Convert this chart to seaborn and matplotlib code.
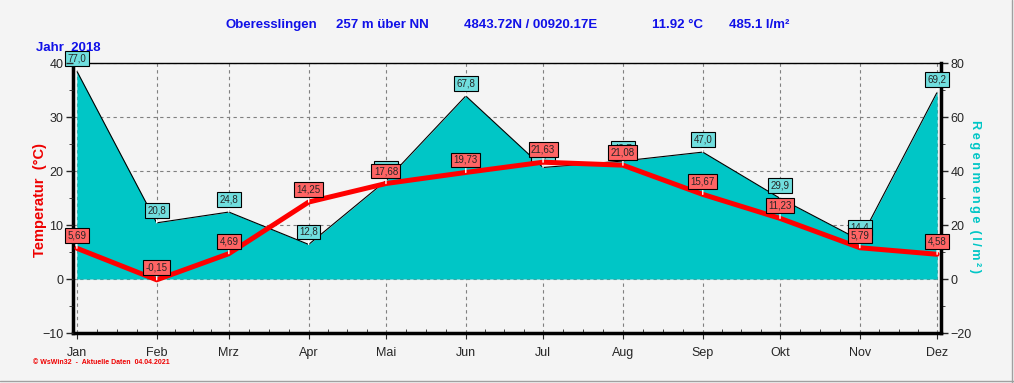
import numpy as np
import pandas as pd
import matplotlib.pyplot as plt
import matplotlib.ticker as mticker
from matplotlib.lines import Line2D
import seaborn as sns


sns.set_style('white')
plt.rcParams['font.family'] = ['Liberation Sans', 'DejaVu Sans']


months = ['Jan', 'Feb', 'Mrz', 'Apr', 'Mai', 'Jun', 'Jul', 'Aug', 'Sep', 'Okt', 'Nov', 'Dez']
temperature = [5.69, -0.15, 4.69, 14.25, 17.68, 19.73, 21.63, 21.08, 15.67, 11.23, 5.79, 4.58]
rain = [77.0, 20.8, 24.8, 12.8, 36.4, 67.8, 41.3, 43.7, 47.0, 29.9, 14.4, 69.2]

# month starts as day offsets in 2018
month_start = pd.date_range('2018-01-01', periods=12, freq='MS')
days = np.array((month_start - month_start[0]).days, dtype=float)
month_len = np.array(month_start.days_in_month, dtype=float)

df = pd.DataFrame({'month': months, 'day': days, 'temp': temperature, 'rain': rain})

bg = '#f4f4f4'
teal = '#00c6c6'
blue = '#1010e8'

fig = plt.figure(figsize=(10.14, 3.83), dpi=100, facecolor=bg)
ax = fig.add_axes([73 / 1014, 1 - 333 / 383, (941 - 73) / 1014, (333 - 63) / 383])
ax.set_facecolor(bg)
ax2 = ax.twinx()

# rain area (right axis)
ax.fill_between(df['day'], 0, df['rain'], color=teal, lw=0, zorder=2)
sns.lineplot(data=df, x='day', y='rain', ax=ax, color='black', lw=0.8, zorder=2.5)
ax.set_ylim(-20, 80)
ax.set_xlim(-1.5, 335.5)
ax.yaxis.tick_right()
ax.set_yticks(np.arange(-20, 81, 20))
ax.yaxis.set_minor_locator(mticker.MultipleLocator(10))
ax.set_xticks(days)
ax.set_xticklabels(months)
minor_x = [d + k * l / 4 for d, l in zip(days, month_len) for k in (1, 2, 3)]
ax.set_xticks([m for m in minor_x if m < 335], minor=True)
ax.grid(True, which='major', ls=(0, (3, 3)), color='#808080', lw=0.8, zorder=0)
ax.set_axisbelow(True)
ax.set_xlabel('')
ax.set_ylabel('')

ax.tick_params(axis='y', which='major', right=True, left=False, direction='out',
               length=5, width=1, labelsize=9, pad=2)
ax.tick_params(axis='y', which='minor', right=True, left=False, direction='out', length=3)
ax.tick_params(axis='x', which='major', bottom=True, direction='out', length=4,
               labelsize=9, pad=6)
ax.tick_params(axis='x', which='minor', bottom=True, direction='in', length=3)

for side, lw in [('left', 2.5), ('bottom', 2.5), ('right', 2.5), ('top', 1.0)]:
    ax.spines[side].set_visible(True)
    ax.spines[side].set_color('black')
    ax.spines[side].set_linewidth(lw)

for x, v in zip(df['day'], df['rain']):
    ax.annotate(f'{v:.1f}'.replace('.', ','), xy=(x, v), xytext=(0, 9),
                textcoords='offset points', ha='center', va='center', fontsize=7,
                bbox=dict(boxstyle='square,pad=0.25', fc='#70dede', ec='black', lw=0.8),
                arrowprops=dict(arrowstyle='-', color='white', lw=1, shrinkA=0, shrinkB=0),
                annotation_clip=False, zorder=4)

# temperature line (left axis)
sns.lineplot(data=df, x='day', y='temp', ax=ax2, color='#ff0000', lw=3.6, zorder=3)
ax2.set_ylim(-10, 40)
ax2.yaxis.tick_left()
ax2.set_yticks(np.arange(-10, 41, 10))
ax2.yaxis.set_minor_locator(mticker.MultipleLocator(5))
ax2.tick_params(axis='y', which='major', left=True, right=False, direction='out',
                length=5, width=1, labelsize=9, pad=2)
ax2.tick_params(axis='y', which='minor', left=True, right=False, direction='out', length=3)
ax2.set_ylabel('')
ax2.set_xlabel('')
for s in ax2.spines.values():
    s.set_visible(False)

for x, v in zip(df['day'], df['temp']):
    ax2.annotate(f'{v:.2f}'.replace('.', ','), xy=(x, v), xytext=(0, 9),
                 textcoords='offset points', ha='center', va='center', fontsize=7,
                 bbox=dict(boxstyle='square,pad=0.25', fc='#ff6464', ec='black', lw=0.8),
                 arrowprops=dict(arrowstyle='-', color='white', lw=1, shrinkA=0, shrinkB=0),
                 annotation_clip=False, zorder=5)

# header texts
head = dict(color=blue, fontsize=9.5, fontweight='bold', va='center', ha='left')
fig.text(226 / 1014, 1 - 25 / 383, 'Oberesslingen', **head)
fig.text(336 / 1014, 1 - 25 / 383, '257 m über NN', **head)
fig.text(464 / 1014, 1 - 25 / 383, '4843.72N / 00920.17E', **head)
fig.text(652 / 1014, 1 - 25 / 383, '11.92 °C', **head)
fig.text(729 / 1014, 1 - 25 / 383, '485.1 l/m²', **head)
fig.text(36 / 1014, 1 - 48 / 383, 'Jahr  2018', **head)

fig.text(40 / 1014, 1 - 200 / 383, 'Temperatur  (°C)', color='#ee0000', fontsize=10.5,
         fontweight='bold', rotation=90, ha='center', va='center')
right_label = '\u2009'.join('Regenmenge') + '  ' + '\u2009'.join('(l/m²)')
fig.text(975 / 1014, 1 - 197 / 383, right_label, color=teal,
         fontsize=9.2, fontweight='bold', rotation=-90, ha='center', va='center')
fig.text(33 / 1014, 1 - 363 / 383, '© WsWin32  -  Aktuelle Daten  04.04.2021', color='#ee0000',
         fontsize=5.0, fontweight='bold', ha='left', va='center')

# window frame lines
fig.add_artist(Line2D([1012 / 1014, 1012 / 1014], [0, 1], color='#a0a0a0', lw=1))
fig.add_artist(Line2D([0, 1], [2 / 383, 2 / 383], color='#a0a0a0', lw=1))

fig.savefig('out.png', dpi=100, facecolor=bg)
